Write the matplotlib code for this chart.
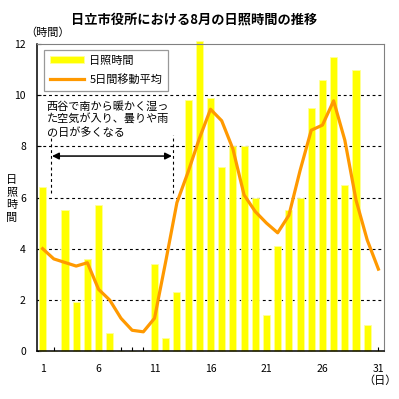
import matplotlib
matplotlib.use("Agg")
import matplotlib.pyplot as plt

plt.rcParams["font.family"] = ["Noto Sans CJK JP", "DejaVu Sans"]

# data
days = list(range(1, 32))
sunshine = [6.4, 0, 5.5, 1.9, 3.6, 5.7, 0.7, 0, 0, 0,
            3.4, 0.5, 2.3, 9.8, 12.1, 9.9, 7.2, 8.0, 8.0, 6.0,
            1.4, 4.1, 5.5, 6.0, 9.5, 10.6, 11.5, 6.5, 11.0, 1.0, 0]
moving_avg = [4.0, 3.6, 3.46, 3.32, 3.45, 2.41, 1.99, 1.28, 0.81, 0.75,
              1.28, 3.5, 5.8, 7.0, 8.3, 9.45, 9.0, 7.9, 6.1, 5.45,
              5.0, 4.62, 5.3, 7.05, 8.63, 8.83, 9.78, 8.24, 5.9, 4.34, 3.2]
xtick_labels = ["1", "6", "11", "16", "21", "26", "31"]
yticks = [0, 2, 4, 6, 8, 10, 12]

fig = plt.figure(figsize=(3.99, 3.99), dpi=100)
ax = fig.add_axes([37 / 399, 48 / 399, 347 / 399, 307 / 399])

bars = ax.bar(days, sunshine, width=0.63, color="#ffff00", edgecolor="#ffff99",
              linewidth=0.6, zorder=2, clip_on=False, label="日照時間")
line, = ax.plot(days, moving_avg, color="#ff9900", linewidth=2.3, zorder=3,
                label="5日間移動平均")

ax.set_xlim(0.5, 31.5)
ax.set_ylim(0, 12)
ax.set_yticks(yticks)
ax.set_xticks(days)
ax.set_xticklabels([str(d) if str(d) in xtick_labels else "" for d in days])
ax.tick_params(axis="both", direction="in", length=3, width=0.8,
               labelsize=7.5)
ax.tick_params(axis="y", pad=8)
ax.tick_params(axis="x", pad=9)

dash = (0, (2.6, 2.6))
for y in yticks[1:-1]:
    ax.axhline(y, color="black", linestyle=dash, linewidth=0.8, zorder=1)

ax.spines["left"].set_color("black")
ax.spines["bottom"].set_color("black")
ax.spines["left"].set_linewidth(1.1)
ax.spines["bottom"].set_linewidth(1.1)
ax.spines["top"].set_color("#808080")
ax.spines["right"].set_color("#808080")

# annotation: period with humid southerly flow
ax.text(1.37, 9.78, "西谷で南から暖かく湿っ\nた空気が入り、曇りや雨\nの日が多くなる",
        fontsize=8, va="top", ha="left", linespacing=1.25, zorder=4)
for xv in (1.72, 12.68):
    ax.plot([xv, xv], [6.17, 8.44], color="black", linestyle=dash,
            linewidth=0.8, zorder=4)
ax.annotate("", xy=(1.84, 7.62), xytext=(12.56, 7.62),
            arrowprops=dict(arrowstyle="<|-|>", color="black", lw=1.1,
                            mutation_scale=10, shrinkA=0, shrinkB=0),
            zorder=4)

leg = ax.legend([bars, line], ["日照時間", "5日間移動平均"],
                loc="upper left", bbox_to_anchor=(0.02, 0.982),
                fontsize=8, frameon=True, fancybox=False, borderpad=0.55,
                handlelength=3.1, handleheight=0.6, handletextpad=0.45,
                labelspacing=0.75, borderaxespad=0)
leg.get_frame().set_edgecolor("#808080")
leg.get_frame().set_linewidth(0.9)

fig.text(194 / 399, 1 - 21 / 399, "日立市役所における8月の日照時間の推移",
         ha="center", va="center", fontsize=9.5, fontweight="bold")
fig.text(25 / 399, 1 - 33 / 399, "（時間）", ha="left", va="center",
         fontsize=8)
# vertical y-axis label, one character per row
for i, ch in enumerate("日照時間"):
    fig.text(12 / 399, 1 - (180 + i * 12.5) / 399, ch, ha="center",
             va="center", fontsize=8)
fig.text(380 / 399, 1 - 381 / 399, "（日）", ha="center", va="center",
         fontsize=8)

fig.savefig("out.png", dpi=100)
